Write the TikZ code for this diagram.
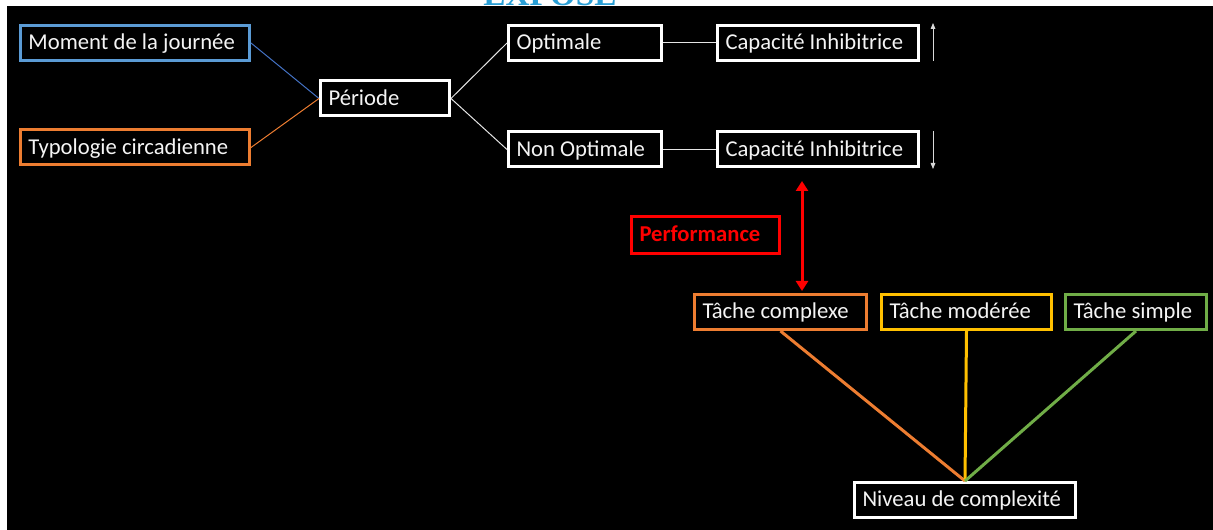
\documentclass[tikz,border=0pt]{standalone}
\usepackage{fontspec}
\setmainfont{Carlito}
\newfontfamily\titlefont{Liberation Serif}
\usetikzlibrary{arrows.meta}
\definecolor{cblue}{HTML}{5B9BD5}
\definecolor{cblueline}{HTML}{4472C4}
\definecolor{corange}{HTML}{ED7D31}
\definecolor{cyellow}{HTML}{FFC000}
\definecolor{cgreen}{HTML}{70AD47}
\definecolor{cred}{HTML}{FF0000}
\definecolor{ctitle}{HTML}{2A9FD6}
\definecolor{ctext}{HTML}{F4F4F4}
\tikzset{
  box/.style={draw=white, line width=2.25pt, text=ctext, fill=black,
    inner xsep=6pt, inner ysep=0pt, align=left, minimum height=26.25pt,
    text height=13pt, text depth=3pt,
    font=\fontsize{17}{20}\selectfont,
    execute at begin node={\spaceskip=3.85pt\relax\leavevmode\hbox\bgroup},
    execute at end node={\egroup}},
  wbox/.style={box, text width=#1},
  thin/.style={line width=0.75pt},
  thick/.style={line width=2.25pt},
  smallarrow/.style={line width=0.6pt, draw=white!85!black, -{Triangle[length=4.5pt,width=3.5pt]}},
}
\begin{document}
\begin{tikzpicture}[x=0.75pt,y=-0.75pt]
\useasboundingbox (0,0) rectangle (1213,530);
\fill[white] (0,0) rectangle (1213,530);
\fill[black] (7,6) rectangle (1213,530);
\begin{scope}
\clip (0,0) rectangle (1213,6);
\node[anchor=base west, inner sep=0pt, text=ctitle, font=\titlefont\bfseries\fontsize{25}{25}\selectfont] (title) at (483,5.5) {EXPOSÉ};
\end{scope}

% left boxes
\node[wbox=159.75pt, draw=cblue] (moment) at (135,43) {Moment de la journée};
\node[wbox=159.75pt, draw=corange] (typo) at (135,147.5) {Typologie circadienne};
\node[wbox=84.75pt] (periode) at (385,98.5) {Période};
\node[wbox=102.75pt] (opt) at (585,43) {Optimale};
\node[wbox=102.75pt] (nonopt) at (585,149.5) {Non Optimale};
\node[wbox=138.75pt] (cap1) at (818,43) {Capacité Inhibitrice};
\node[wbox=138.75pt] (cap2) at (818,149.5) {Capacité Inhibitrice};

\draw[thin, cblueline] (moment.east) -- (periode.west);
\draw[thin, corange] (typo.east) -- (periode.west);
\draw[thin, white!90!black] (periode.east) -- (opt.west);
\draw[thin, white!90!black] (periode.east) -- (nonopt.west);
\draw[thin, white!90!black] (opt.east) -- (cap1.west);
\draw[thin, white!90!black] (nonopt.east) -- (cap2.west);

\coordinate (up0) at (933,61);
\coordinate (up1) at (933,23);
\coordinate (dn0) at (933,131);
\coordinate (dn1) at (933,169);
\draw[smallarrow] (up0) -- (up1);
\draw[smallarrow] (dn0) -- (dn1);

% performance
\node[wbox=99pt, draw=cred, text=cred, font=\fontsize{17}{20}\selectfont\bfseries, minimum height=27.75pt] (perf) at (705.5,235) {Performance};
\coordinate (pa) at (802,181);
\coordinate (pb) at (802,291);
\draw[thick, cred, {Triangle[length=7.5pt,width=9pt]}-{Triangle[length=7.5pt,width=9pt]}] (pa) -- (pb);

% tasks
\node[wbox=117pt, draw=corange] (complexe) at (780.5,312) {Tâche complexe};
\node[wbox=115.5pt, draw=cyellow] (moderee) at (966.5,312) {Tâche modérée};
\node[wbox=93.75pt, draw=cgreen] (simple) at (1136,312) {Tâche simple};
\node[wbox=153.75pt] (niveau) at (965,500) {Niveau de complexité};

\draw[thick, corange] (complexe.south) -- (niveau.north);
\draw[thick, cyellow] (moderee.south) -- (niveau.north);
\draw[thick, cgreen] (simple.south) -- (niveau.north);
\end{tikzpicture}
\end{document}
